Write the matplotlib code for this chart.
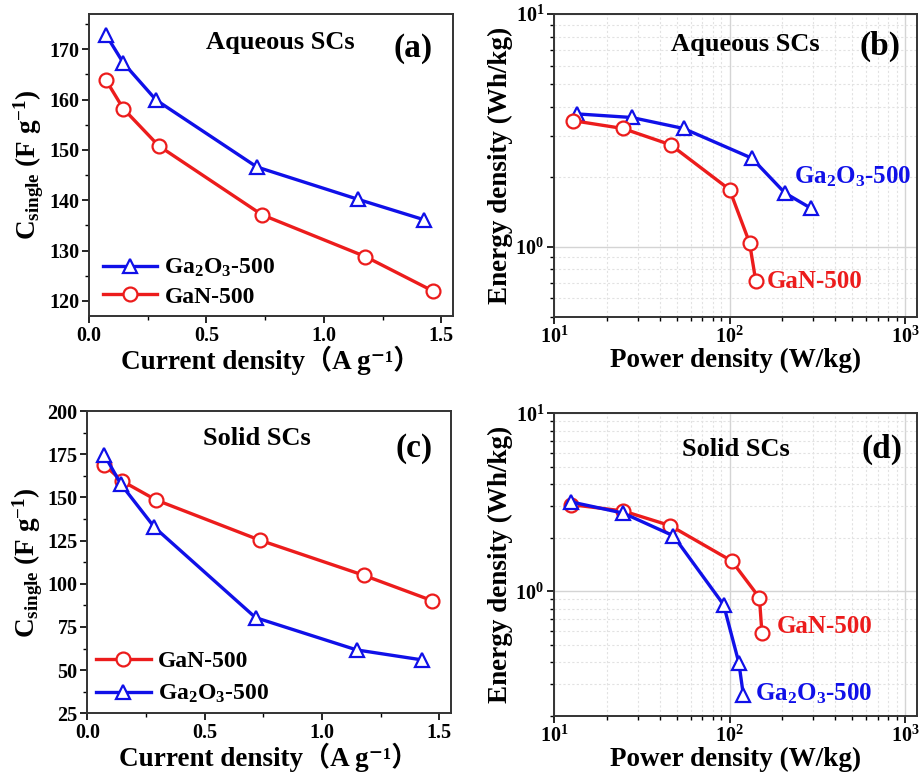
import math
import matplotlib
matplotlib.use("Agg")
import matplotlib.pyplot as plt
from matplotlib.ticker import MultipleLocator, LogLocator, FuncFormatter, NullFormatter


# (a) aqueous cells: specific capacitance vs current density
aq_ga2o3_j = [0.072, 0.146, 0.286, 0.715, 1.144, 1.428]
aq_ga2o3_c = [172.9, 167.3, 159.9, 146.6, 140.2, 136.1]
aq_gan_j = [0.072, 0.146, 0.297, 0.737, 1.177, 1.467]
aq_gan_c = [163.9, 158.2, 150.8, 137.1, 128.8, 121.9]

# (b) aqueous cells: Ragone data
aq_ga2o3_p = [13.5, 27.7, 54.7, 134, 207, 292]
aq_ga2o3_e = [3.72, 3.59, 3.22, 2.40, 1.70, 1.46]
aq_gan_p = [12.8, 24.7, 46.2, 100, 130, 141]
aq_gan_e = [3.48, 3.22, 2.74, 1.76, 1.04, 0.714]

# (c) solid cells: specific capacitance vs current density
so_gan_j = [0.073, 0.148, 0.293, 0.734, 1.178, 1.470]
so_gan_c = [168.7, 159.5, 148.5, 125.3, 104.9, 90.2]
so_ga2o3_j = [0.073, 0.143, 0.286, 0.717, 1.148, 1.428]
so_ga2o3_c = [174.5, 157.7, 132.7, 80.4, 61.7, 55.9]

# (d) solid cells: Ragone data
so_gan_p = [12.5, 24.7, 45.9, 103, 148, 153]
so_gan_e = [3.07, 2.83, 2.34, 1.48, 0.921, 0.583]
so_ga2o3_p = [12.5, 24.8, 47.9, 92.5, 113, 120]
so_ga2o3_e = [3.18, 2.75, 2.05, 0.841, 0.397, 0.26]

GA2O3 = r"Ga$_\mathbf{2}$O$_\mathbf{3}$-500"
GAN = "GaN-500"
BLUE = "#1010e8"
RED = "#ec1c1c"

plt.rcParams['font.family'] = ['Liberation Serif', 'DejaVu Serif', 'Noto Sans CJK SC']
plt.rcParams['font.weight'] = 'bold'
plt.rcParams['mathtext.fontset'] = 'custom'
plt.rcParams['mathtext.rm'] = 'Liberation Serif:bold'
plt.rcParams['mathtext.bf'] = 'Liberation Serif:bold'
plt.rcParams['mathtext.it'] = 'Liberation Serif:bold:italic'
plt.rcParams['axes.edgecolor'] = '#333333'
plt.rcParams['axes.linewidth'] = 1.4
plt.rcParams['xtick.labelsize'] = 14.5
plt.rcParams['ytick.labelsize'] = 14.5

XLABEL_J = "Current density（A g⁻¹）"
YLABEL_C = r"C$_{\mathbf{single}}$ (F g$^{\mathbf{-1}}$)"


def style_line(ax, x, y, color, marker, label=None):
    ax.plot(x, y, color=color, lw=2.4, marker=marker, ms=10,
            mfc='white', mec=color, mew=1.6, label=label)


def setup_linear(ax, ylim, ystep):
    ax.set_xlim(0, 1.55)
    ax.set_ylim(*ylim)
    ax.xaxis.set_major_locator(MultipleLocator(0.5))
    ax.xaxis.set_minor_locator(MultipleLocator(0.25))
    ax.yaxis.set_major_locator(MultipleLocator(ystep))
    ax.yaxis.set_minor_locator(MultipleLocator(ystep / 2))
    ax.tick_params(which='major', direction='out', length=5, width=1.2, pad=2)
    ax.tick_params(which='minor', direction='out', length=3, width=1.0)
    ax.set_xlabel(XLABEL_J, fontsize=19.5, fontweight='bold', labelpad=0)
    ax.set_ylabel(YLABEL_C, fontsize=19.5, fontweight='bold', labelpad=2)


def setup_log(ax, ylim):
    ax.set_xscale('log')
    ax.set_yscale('log')
    ax.set_xlim(10, 1165)
    ax.set_ylim(*ylim)
    fmt = FuncFormatter(lambda v, p: r"$\mathbf{10^{%d}}$" % round(math.log10(v)))
    ax.xaxis.set_major_formatter(fmt)
    ax.yaxis.set_major_formatter(fmt)
    ax.xaxis.set_minor_formatter(NullFormatter())
    ax.yaxis.set_minor_formatter(NullFormatter())
    ax.xaxis.set_minor_locator(LogLocator(subs=range(2, 10)))
    ax.yaxis.set_minor_locator(LogLocator(subs=range(2, 10)))
    ax.grid(which='major', color='#d4d4d4', lw=1.0)
    ax.grid(which='minor', color='#e2e2e2', lw=0.8, ls=(0, (2, 2)))
    ax.set_axisbelow(True)
    ax.tick_params(which='major', direction='out', length=5, width=1.2, pad=2)
    ax.tick_params(which='minor', direction='out', length=3, width=1.0)
    ax.set_xlabel("Power density (W/kg)", fontsize=19.5, fontweight='bold', labelpad=0)
    ax.set_ylabel("Energy density (Wh/kg)", fontsize=19.5, fontweight='bold', labelpad=2)


def tag(ax, title, letter, tx, ty, lx, ly):
    ax.text(tx, ty, title, transform=ax.transAxes, ha='center', va='center',
            fontsize=19, fontweight='bold')
    ax.text(lx, ly, letter, transform=ax.transAxes, ha='center', va='center',
            fontsize=24, fontweight='bold')


fig = plt.figure(figsize=(9.19, 7.72), dpi=100)
ax_a = fig.add_axes([0.0968, 0.5907, 0.3961, 0.3912])
ax_b = fig.add_axes([0.6028, 0.5898, 0.3947, 0.3921])
ax_c = fig.add_axes([0.0950, 0.0760, 0.3958, 0.3916])
ax_d = fig.add_axes([0.6028, 0.0729, 0.3947, 0.3917])

# (a)
style_line(ax_a, aq_ga2o3_j, aq_ga2o3_c, BLUE, '^', GA2O3)
style_line(ax_a, aq_gan_j, aq_gan_c, RED, 'o', GAN)
setup_linear(ax_a, (117, 177), 10)
ax_a.legend(loc='lower left', bbox_to_anchor=(0.016, 0.0), frameon=False,
            fontsize=17, handlelength=2.3, labelspacing=0.3, borderaxespad=0.0,
            borderpad=0.35, handletextpad=0.3)
tag(ax_a, "Aqueous SCs", "(a)", 0.525, 0.904, 0.89, 0.887)

# (b)
style_line(ax_b, aq_ga2o3_p, aq_ga2o3_e, BLUE, '^')
style_line(ax_b, aq_gan_p, aq_gan_e, RED, 'o')
setup_log(ax_b, (0.5, 10))
ax_b.text(232, 2.0, GA2O3, color=BLUE, fontsize=18, fontweight='bold', va='center')
ax_b.text(162, 0.707, GAN, color=RED, fontsize=18, fontweight='bold', va='center')
tag(ax_b, "Aqueous SCs", "(b)", 0.527, 0.898, 0.899, 0.892)

# (c)
style_line(ax_c, so_gan_j, so_gan_c, RED, 'o', GAN)
style_line(ax_c, so_ga2o3_j, so_ga2o3_c, BLUE, '^', GA2O3)
setup_linear(ax_c, (25, 200), 25)
ax_c.legend(loc='lower left', bbox_to_anchor=(0.002, 0.0), frameon=False,
            fontsize=17, handlelength=2.3, labelspacing=0.45, borderaxespad=0.0,
            borderpad=0.35, handletextpad=0.3)
tag(ax_c, "Solid SCs", "(c)", 0.466, 0.91, 0.897, 0.877)

# (d)
style_line(ax_d, so_gan_p, so_gan_e, RED, 'o')
style_line(ax_d, so_ga2o3_p, so_ga2o3_e, BLUE, '^')
setup_log(ax_d, (0.2, 10))
ax_d.text(186, 0.638, GAN, color=RED, fontsize=18, fontweight='bold', va='center')
ax_d.text(140, 0.265, GA2O3, color=BLUE, fontsize=18, fontweight='bold', va='center')
tag(ax_d, "Solid SCs", "(d)", 0.502, 0.879, 0.903, 0.881)

fig.savefig("out.png", dpi=100)
